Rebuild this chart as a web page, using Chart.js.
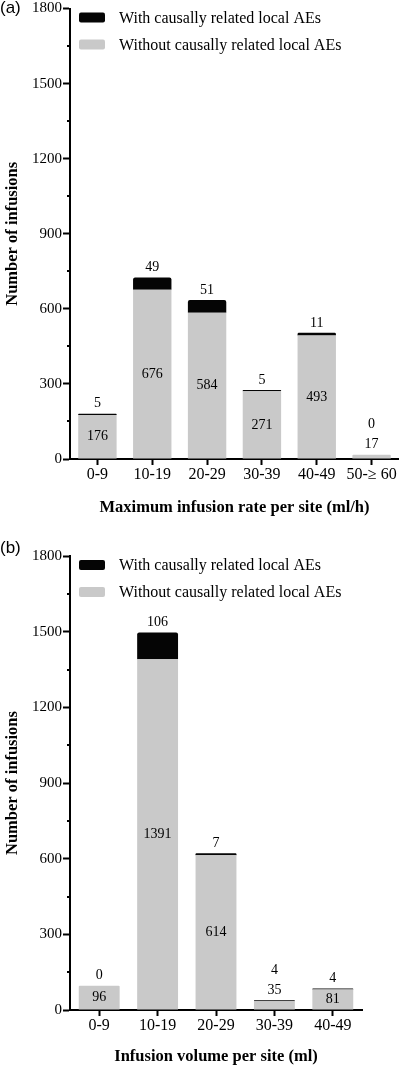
<!DOCTYPE html>
<html>
<head>
<meta charset="utf-8">
<script src="https://cdn.jsdelivr.net/npm/chart.js@4/dist/chart.umd.min.js"></script>
<style>
  html, body { margin: 0; padding: 0; background: #fff; }
  body { width: 399px; height: 1067px; position: relative; overflow: hidden; }
  .panel { position: absolute; left: 0; width: 399px; }
  .tag { position: absolute; left: 0; font: 17px "Liberation Sans", Arial, sans-serif; color: #000; }
</style>
</head>
<body>
<div class="panel" style="top:0;height:530px"><canvas id="rateChart"></canvas></div>
<div class="panel" style="top:530px;height:537px"><canvas id="volumeChart"></canvas></div>
<div class="tag" style="top:-2px">(a)</div>
<div class="tag" style="top:538px">(b)</div>
<script>
// series names (legend order: with AEs first)
const seriesNames = ["With causally related local AEs", "Without causally related local AEs"];

// (a) maximum infusion rate per site
const rateLabels = ["0-9", "10-19", "20-29", "30-39", "40-49", "50-\u2265 60"];
const rateWithout = [176, 676, 584, 271, 493, 17];
const rateWith = [5, 49, 51, 5, 11, 0];

// (b) infusion volume per site
const volumeLabels = ["0-9", "10-19", "20-29", "30-39", "40-49"];
const volumeWithout = [96, 1391, 614, 35, 81];
const volumeWith = [0, 106, 7, 4, 4];

// y axis
const yMax = 1800;
const yStep = 300;

const serif = "'Liberation Serif', 'Times New Roman', serif";
const grey = "#c9c9c9";
const black = "#050505";

// draws the count labels on / above the bars
const valueLabels = {
    id: "valueLabels",
    afterDatasetsDraw(chart) {
        const ctx = chart.ctx;
        const lower = chart.getDatasetMeta(0);
        const upper = chart.getDatasetMeta(1);
        ctx.save();
        ctx.font = "14px " + serif;
        ctx.fillStyle = "#000";
        ctx.textAlign = "center";
        ctx.textBaseline = "middle";
        lower.data.forEach(function(bar, i) {
            const top = upper.data[i].y;
            const h = bar.base - bar.y;
            const greyVal = chart.data.datasets[0].data[i];
            const blackVal = chart.data.datasets[1].data[i];
            if (h >= 16) {
                ctx.fillText(greyVal, bar.x, (bar.y + bar.base) / 2);
                ctx.fillText(blackVal, bar.x, top - 10);
            } else {
                ctx.fillText(greyVal, bar.x, top - 10);
                ctx.fillText(blackVal, bar.x, top - 30);
            }
        });
        ctx.restore();
    }
};

// short minor ticks half way between the labelled ones + the legend
const extras = {
    id: "extras",
    afterDraw(chart) {
        const ctx = chart.ctx;
        const y = chart.scales.y;
        const area = chart.chartArea;
        ctx.save();
        ctx.strokeStyle = "#000";
        ctx.lineWidth = 2;
        for (let v = yStep / 2; v < yMax; v += yStep) {
            const py = Math.round(y.getPixelForValue(v));
            ctx.beginPath();
            ctx.moveTo(area.left - 3, py);
            ctx.lineTo(area.left, py);
            ctx.stroke();
        }

        // legend
        const order = [1, 0];
        ctx.font = "16px " + serif;
        ctx.textBaseline = "middle";
        order.forEach(function(d, k) {
            const cy = area.top + 9 + k * 27;
            const ds = chart.data.datasets[d];
            ctx.fillStyle = ds.backgroundColor;
            ctx.beginPath();
            ctx.roundRect(area.left + 9, cy - 5, 26, 10, 2);
            ctx.fill();
            ctx.fillStyle = "#000";
            ctx.fillText(ds.label, area.left + 49, cy + 1);
        });
        ctx.restore();
    }
};

function makeChart(id, labels, without, withAE, xTitle, box) {
    const ctx = document.getElementById(id).getContext("2d");
    return new Chart(ctx, {
        type: "bar",
        data: {
            labels: labels,
            datasets: [{
                label: seriesNames[1],
                data: without,
                backgroundColor: grey,
                borderRadius: 1,
                borderSkipped: "bottom",
                barPercentage: 0.7,
                categoryPercentage: 1
            }, {
                label: seriesNames[0],
                data: withAE,
                backgroundColor: black,
                borderRadius: 2,
                barPercentage: 0.7,
                categoryPercentage: 1
            }]
        },
        options: {
            responsive: true,
            maintainAspectRatio: false,
            animation: false,
            layout: { padding: { top: box.top, right: box.right, left: 0, bottom: 0 } },
            plugins: {
                legend: { display: false },
                tooltip: { enabled: false }
            },
            scales: {
                x: {
                    stacked: true,
                    afterFit: function(s) { s.height = box.axisHeight; },
                    border: { color: "#000", width: 2 },
                    grid: { offset: false, drawOnChartArea: false, tickLength: 6, tickColor: "#000", tickWidth: 2 },
                    ticks: { color: "#000", padding: 2, maxRotation: 0, font: { family: serif, size: 16, lineHeight: 1 } },
                    title: {
                        display: true,
                        text: xTitle,
                        color: "#000",
                        padding: { top: 0, bottom: box.titlePad },
                        font: { family: serif, size: 16.5, weight: "bold" }
                    }
                },
                y: {
                    stacked: true,
                    min: 0,
                    max: yMax,
                    afterFit: function(s) { s.width = 70; },
                    border: { color: "#000", width: 2 },
                    grid: { drawOnChartArea: false, tickLength: 7, tickColor: "#000", tickWidth: 2 },
                    ticks: {
                        stepSize: yStep,
                        color: "#000",
                        padding: 1,
                        font: { family: serif, size: 15, lineHeight: 1 },
                        callback: function(v) { return String(v); }
                    },
                    title: {
                        display: true,
                        text: "Number of infusions",
                        color: "#000",
                        padding: { top: 3, bottom: 0 },
                        font: { family: serif, size: 16.5, weight: "bold" }
                    }
                }
            }
        },
        plugins: [valueLabels, extras]
    });
}

document.addEventListener("DOMContentLoaded", function() {
    makeChart("rateChart", rateLabels, rateWithout, rateWith,
        "Maximum infusion rate per site (ml/h)",
        { top: 0, right: 0, axisHeight: 71, titlePad: 12 });
    makeChart("volumeChart", volumeLabels, volumeWithout, volumeWith,
        "Infusion volume per site (ml)",
        { top: 26, right: 37, axisHeight: 57, titlePad: 0 });
});
</script>
</body>
</html>
